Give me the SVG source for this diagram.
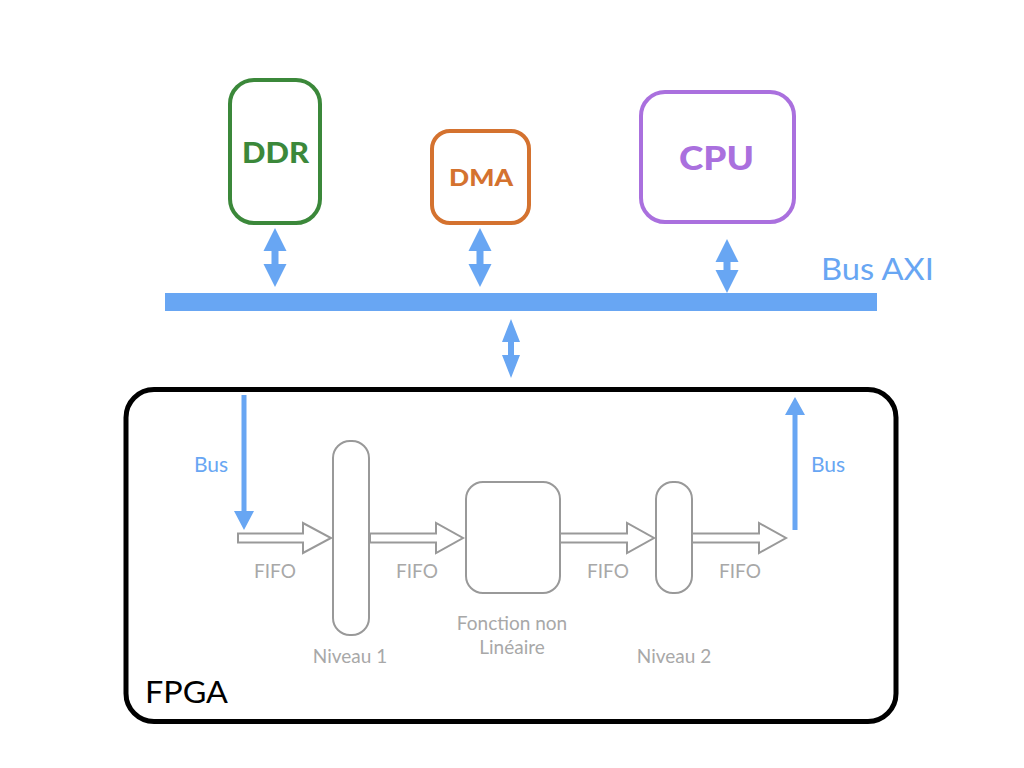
<svg xmlns="http://www.w3.org/2000/svg" width="1024" height="768" viewBox="0 0 1024 768">
<style>
text { font-family: Lato, "Open Sans", "DejaVu Sans", sans-serif; }
.bold { font-weight: 900; text-anchor: middle; }
.blue { fill: #68a6f3; }
.gray { fill: #a8a8a8; font-size: 19px; text-anchor: middle; }
.blk { fill: none; stroke: #999999; stroke-width: 2; }
.fifo { fill: #ffffff; stroke: #999999; stroke-width: 2; stroke-linejoin: miter; }
.barrow { fill: #68a6f3; }
</style>
<rect width="1024" height="768" fill="#ffffff"/>

<g id="ddr">
<rect x="230" y="80" width="90" height="143" rx="24" fill="none" stroke="#3b883a" stroke-width="4"/>
<text x="275.5" y="163" class="bold" font-size="28" fill="#3b883a" textLength="67" lengthAdjust="spacingAndGlyphs">DDR</text>
</g>
<g id="dma">
<rect x="432" y="131" width="97" height="92" rx="18" fill="none" stroke="#d4722f" stroke-width="4"/>
<text x="481" y="186" class="bold" font-size="23" fill="#d4722f" textLength="64" lengthAdjust="spacingAndGlyphs">DMA</text>
</g>
<g id="cpu">
<rect x="641" y="92" width="153" height="130" rx="24" fill="none" stroke="#aa70de" stroke-width="4"/>
<text x="716.5" y="170" class="bold" font-size="32" fill="#aa70de" textLength="75" lengthAdjust="spacingAndGlyphs">CPU</text>
</g>

<g id="bus-axi">
<rect x="165" y="293" width="712" height="18" fill="#68a6f3"/>
<text x="821" y="280" class="blue" font-size="31" textLength="113" lengthAdjust="spacingAndGlyphs">Bus AXI</text>
</g>

<g id="fpga">
<rect x="126" y="389.5" width="770" height="332" rx="28" fill="none" stroke="#000000" stroke-width="5"/>
<text x="145" y="703" font-size="31" fill="#000000" textLength="83" lengthAdjust="spacingAndGlyphs">FPGA</text>
</g>

<g id="niveau1">
<rect x="333" y="441" width="36" height="194" rx="17" class="blk"/>
<text x="350" y="663" class="gray">Niveau 1</text>
</g>
<g id="fonction">
<rect x="466" y="482" width="94" height="111" rx="17" class="blk"/>
<text x="512" y="630" class="gray">Fonction non</text>
<text x="512" y="654" class="gray">Linéaire</text>
</g>
<g id="niveau2">
<rect x="656" y="482" width="36" height="111" rx="17" class="blk"/>
<text x="674" y="663" class="gray">Niveau 2</text>
</g>

<g id="connectors">
<path class="barrow" d="M275,228 L286.5,251 L278.5,251 L278.5,264 L286.5,264 L275,287 L263.5,264 L271.5,264 L271.5,251 L263.5,251 Z"/>
<path class="barrow" d="M480,228 L491.5,251 L483.5,251 L483.5,264 L491.5,264 L480,287 L468.5,264 L476.5,264 L476.5,251 L468.5,251 Z"/>
<path class="barrow" d="M727,239 L738.5,262 L730.5,262 L730.5,270 L738.5,270 L727,293 L715.5,270 L723.5,270 L723.5,262 L715.5,262 Z"/>
<path class="barrow" d="M511,319 L520,342 L514,342 L514,355 L520,355 L511,378 L502,355 L508,355 L508,342 L502,342 Z"/>

<path class="barrow" d="M241.5,395 L246.5,395 L246.5,511 L254,511 L244,530 L234,511 L241.5,511 Z"/>
<path class="barrow" d="M792.5,530 L797.5,530 L797.5,415 L805,415 L795,397 L785,415 L792.5,415 Z"/>
<text x="194" y="472" class="blue" font-size="21">Bus</text>
<text x="811" y="472" class="blue" font-size="21">Bus</text>

<path class="fifo" d="M238,533.5 L303,533.5 L303,523 L331,538 L303,553 L303,542.5 L238,542.5 Z"/>
<path class="fifo" d="M370,533.5 L436,533.5 L436,523 L463,538 L436,553 L436,542.5 L370,542.5 Z"/>
<path class="fifo" d="M560,533.5 L627,533.5 L627,523 L654,538 L627,553 L627,542.5 L560,542.5 Z"/>
<path class="fifo" d="M692,533.5 L759,533.5 L759,523 L786,538 L759,553 L759,542.5 L692,542.5 Z"/>
<text x="275" y="578" class="gray">FIFO</text>
<text x="417" y="578" class="gray">FIFO</text>
<text x="608" y="578" class="gray">FIFO</text>
<text x="740" y="578" class="gray">FIFO</text>
</g>
</svg>
